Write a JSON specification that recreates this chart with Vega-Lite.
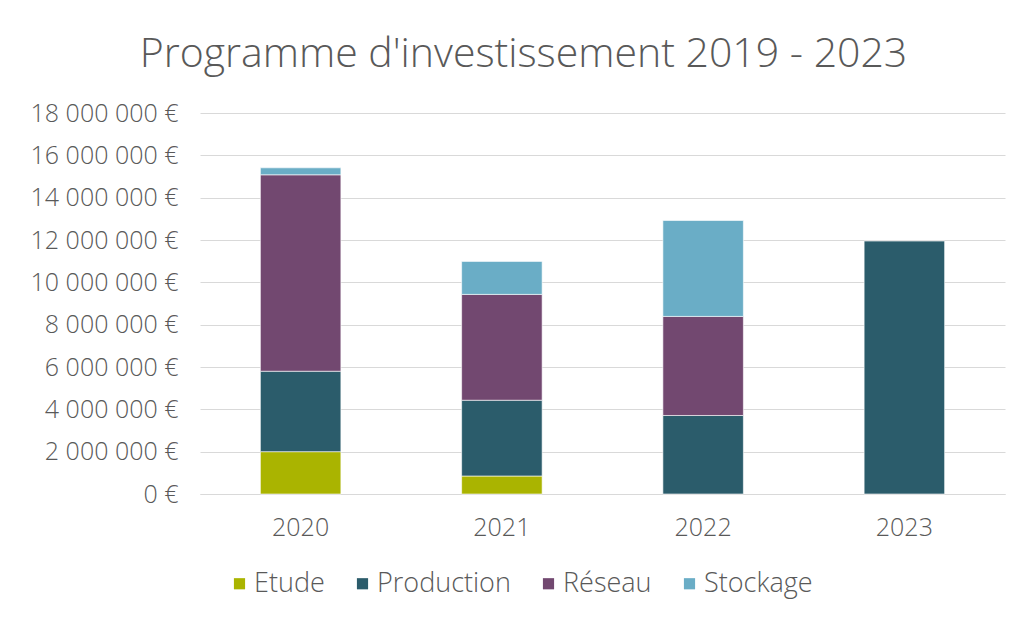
{
  "$schema": "https://vega.github.io/schema/vega-lite/v6.json",
  "width": 805,
  "height": 381,
  "autosize": {"type": "none"},
  "padding": {"left": 200, "top": 113, "right": 23, "bottom": 128},
  "background": "white",
  "title": {
    "text": "Programme d'investissement 2019 - 2023",
    "anchor": "middle",
    "frame": "group",
    "dx": -79,
    "offset": -7,
    "baseline": "alphabetic",
    "fontSize": 41,
    "font": "Open Sans",
    "fontWeight": 300,
    "color": "#595959"
  },
  "data": {
    "values": [
      {"annee": "2020", "categorie": "Etude", "montant": 2000000},
      {"annee": "2020", "categorie": "Production", "montant": 3800000},
      {"annee": "2020", "categorie": "Réseau", "montant": 9280000},
      {"annee": "2020", "categorie": "Stockage", "montant": 330000},
      {"annee": "2021", "categorie": "Etude", "montant": 850000},
      {"annee": "2021", "categorie": "Production", "montant": 3580000},
      {"annee": "2021", "categorie": "Réseau", "montant": 5000000},
      {"annee": "2021", "categorie": "Stockage", "montant": 1560000},
      {"annee": "2022", "categorie": "Production", "montant": 3710000},
      {"annee": "2022", "categorie": "Réseau", "montant": 4680000},
      {"annee": "2022", "categorie": "Stockage", "montant": 4530000},
      {"annee": "2023", "categorie": "Production", "montant": 11950000}
    ]
  },
  "mark": {"type": "bar", "stroke": "#ffffff", "strokeWidth": 0.6},
  "encoding": {
    "x": {
      "field": "annee",
      "type": "nominal",
      "scale": {"paddingInner": 0.6, "paddingOuter": 0.3},
      "axis": {
        "title": null,
        "labelAngle": 0,
        "ticks": false,
        "domain": true,
        "domainColor": "#d9d9d9",
        "labelPadding": 21,
        "labelFontSize": 25,
        "labelFont": "Open Sans",
        "labelFontWeight": 300,
        "labelColor": "#595959"
      }
    },
    "y": {
      "field": "montant",
      "type": "quantitative",
      "stack": "zero",
      "scale": {"domain": [0, 18000000], "nice": false},
      "axis": {
        "title": null,
        "values": [0, 2000000, 4000000, 6000000, 8000000, 10000000, 12000000, 14000000, 16000000, 18000000],
        "labelExpr": "replace(format(datum.value, ',.0f'), /,/g, ' ') + ' €'",
        "ticks": false,
        "domain": false,
        "grid": true,
        "gridColor": "#d9d9d9",
        "gridWidth": 1,
        "labelPadding": 22,
        "labelFontSize": 25,
        "labelFont": "Open Sans",
        "labelFontWeight": 300,
        "labelColor": "#595959"
      }
    },
    "color": {
      "field": "categorie",
      "type": "nominal",
      "scale": {
        "domain": ["Etude", "Production", "Réseau", "Stockage"],
        "range": ["#AAB400", "#2B5C6B", "#724870", "#6AADC6"]
      },
      "legend": {
        "title": null,
        "orient": "none",
        "direction": "horizontal",
        "columns": 4,
        "legendX": 26,
        "legendY": 457,
        "symbolType": "square",
        "symbolSize": 125,
        "symbolStrokeWidth": 0,
        "labelFontSize": 27,
        "labelFont": "Open Sans",
        "labelFontWeight": 300,
        "labelColor": "#595959",
        "labelOffset": 1,
        "columnPadding": 24
      }
    },
    "order": {"field": "categorie", "sort": "ascending"}
  },
  "config": {"view": {"stroke": null}}
}
